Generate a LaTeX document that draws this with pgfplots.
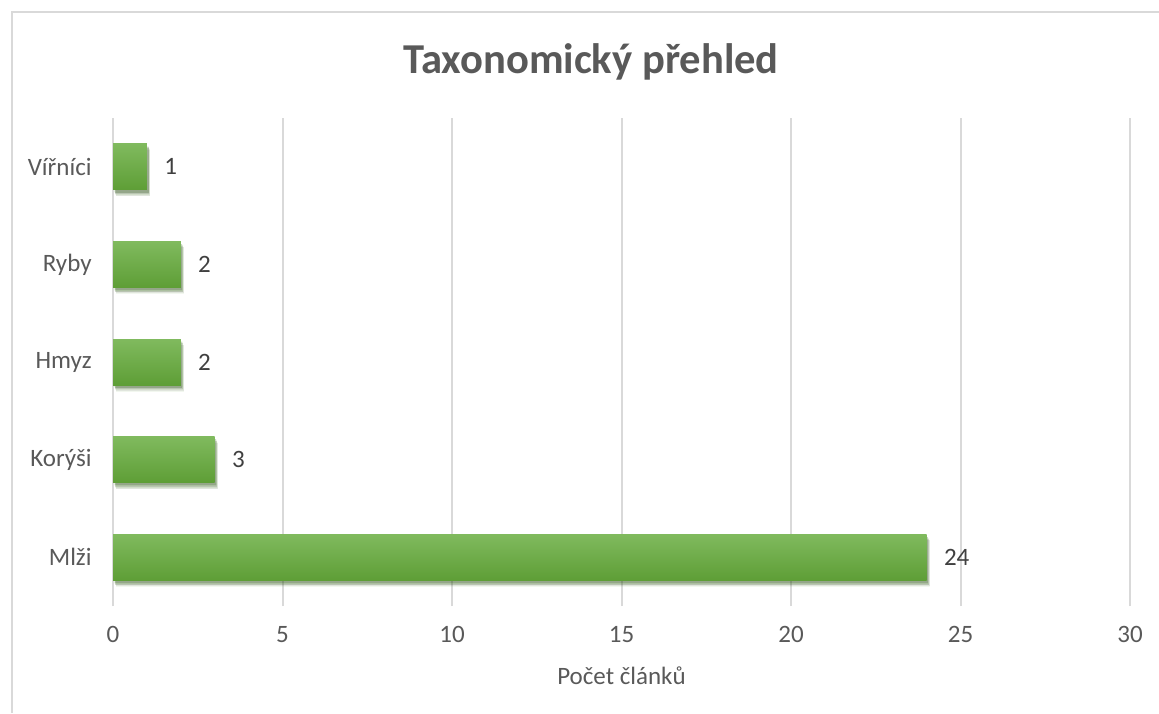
\documentclass[border=0pt]{standalone}
\usepackage{pgfplots}
\pgfplotsset{compat=1.18}
\usepackage{fontspec}
\setmainfont{Carlito}
\usetikzlibrary{shadows}
\definecolor{txt}{HTML}{595959}
\definecolor{lbl}{HTML}{404040}
\definecolor{gridc}{HTML}{D9D9D9}
\definecolor{gtop}{HTML}{80BA5E}
\definecolor{gbot}{HTML}{5E9E36}
\begin{document}
\begin{tikzpicture}
\useasboundingbox (0,0) rectangle (579.5pt,356.5pt);
\draw[draw=gridc, line width=0.8pt] (6pt,0) -- (6pt,350.5pt) -- (579.5pt,350.5pt);
\node[font=\fontsize{21.3}{24}\selectfont\bfseries, text=txt] at (295.5pt,325.5pt) {Taxonomický přehled};
\begin{axis}[
  at={(56.5pt,53.5pt)}, anchor=south west,
  scale only axis, width=508.5pt, height=244pt,
  xbar, bar width=23pt, bar shift=0pt,
  xmin=0, xmax=30, ymin=-0.5, ymax=4.5,
  xtick={0,5,...,30},
  ytick={0,1,2,3,4},
  yticklabels={Mlži,Korýši,Hmyz,Ryby,Vířníci},
  axis line style={draw=none},
  major tick length=0pt,
  xmajorgrids, ymajorgrids=false, major grid style={draw=gridc, line width=1pt},
  /pgf/number format/assume math mode=true,
  tick label style={font=\fontsize{12.5}{14}\selectfont, text=txt, inner sep=0pt},
  xticklabel style={anchor=north, yshift=-10pt},
  yticklabel style={anchor=east, xshift=-10.5pt},
  xlabel={Počet článků},
  xlabel style={font=\fontsize{12.5}{14}\selectfont, text=txt, at={(axis description cs:0.5,0)}, anchor=center, yshift=-35pt},
  nodes near coords,
  every node near coord/.style={anchor=west, inner sep=0pt, xshift=8.5pt, font=\fontsize{12.5}{14}\selectfont, text=lbl},
  barsty/.style={draw=none, top color=gtop, bottom color=gbot,
    drop shadow={shadow xshift=1.5pt, shadow yshift=-3pt, opacity=0.08, fill=black},
    drop shadow={shadow xshift=1.2pt, shadow yshift=-2.2pt, opacity=0.12, fill=black},
    drop shadow={shadow xshift=0.8pt, shadow yshift=-1.4pt, opacity=0.15, fill=black}},
]
\addplot[barsty] coordinates {(24,0)};
\addplot[barsty] coordinates {(3,1)};
\addplot[barsty] coordinates {(2,2)};
\addplot[barsty] coordinates {(2,3)};
\addplot[barsty] coordinates {(1,4)};
\end{axis}
\end{tikzpicture}
\end{document}
